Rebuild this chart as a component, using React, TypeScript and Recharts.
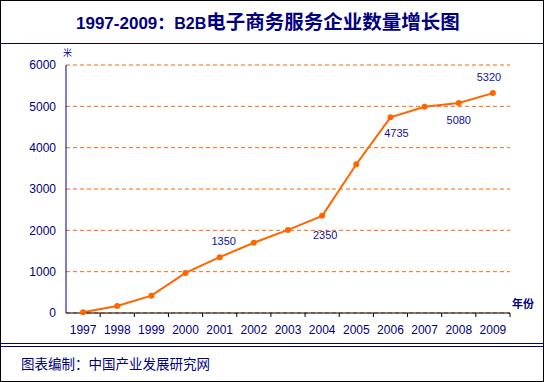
import React from 'react';
import { LineChart, Line, XAxis, YAxis, CartesianGrid, LabelList } from 'recharts';

const years = ['1997', '1998', '1999', '2000', '2001', '2002', '2003', '2004', '2005', '2006', '2007', '2008', '2009'];
const counts = [20, 170, 420, 970, 1350, 1700, 2010, 2350, 3600, 4735, 4990, 5080, 5320];
const yTicks = [0, 1000, 2000, 3000, 4000, 5000, 6000];
const labeledYears = ['2001', '2004', '2006', '2008', '2009'];

const data = years.map((y, i) => ({ year: y, value: counts[i] }));

const NAVY = '#000080';
const ORANGE = '#FF6600';
const FONT = '"Liberation Sans", Arial, sans-serif';
const CJK = '"Noto Sans CJK SC", sans-serif';

const labelOffsets: Record<string, { dx: number; dy: number }> = {
  '2001': { dx: 4, dy: -16 },
  '2004': { dx: 3, dy: 19 },
  '2006': { dx: 6, dy: 16 },
  '2008': { dx: 0, dy: 17 },
  '2009': { dx: -4, dy: -16 },
};

const BAND = 444 / 13;

const XTick = (props: any) => {
  const { x, y, payload } = props;
  const axisY = 313;
  return (
    <g>
      <line x1={x + BAND / 2} x2={x + BAND / 2} y1={axisY} y2={axisY + 4} stroke="#000" />
      <text x={x} y={y} dy="0.71em" textAnchor="middle" fill={NAVY} fontSize={12} fontFamily={FONT}>
        {payload.value}
      </text>
    </g>
  );
};

const DataLabel = (props: any) => {
  const { x, y, index } = props;
  const yr = years[index];
  if (!labeledYears.includes(yr)) return null;
  const o = labelOffsets[yr];
  return (
    <text x={x + o.dx} y={y + o.dy} dy="0.35em" textAnchor="middle" fill="#1010A0" fontSize={11} fontFamily={FONT}>
      {counts[index]}
    </text>
  );
};

export default function App() {
  return (
    <div style={{ position: 'absolute', left: 0, top: 0, width: 544, height: 382, background: '#fff' }}>
      <LineChart
        width={544}
        height={382}
        data={data}
        margin={{ top: 65, right: 34, bottom: 39, left: 6 }}
      >
        <CartesianGrid horizontal vertical={false} stroke={ORANGE} strokeDasharray="4 3" />
        <XAxis
          dataKey="year"
          height={30}
          padding={{ left: BAND / 2, right: BAND / 2 }}
          axisLine={{ stroke: '#000' }}
          tickLine={false}
          tickSize={4}
          tickMargin={8}
          interval={0}
          tick={<XTick />}
        />
        <YAxis
          width={60}
          domain={[0, 6000]}
          ticks={yTicks}
          axisLine={{ stroke: NAVY }}
          tickLine={false}
          tickMargin={4}
          tick={{ fill: NAVY, fontSize: 12, fontFamily: FONT }}
        />
        <Line
          type="linear"
          dataKey="value"
          stroke={ORANGE}
          strokeWidth={2}
          dot={{ r: 3, fill: ORANGE, stroke: ORANGE, strokeWidth: 0 }}
          isAnimationActive={false}
        >
          <LabelList dataKey="value" content={<DataLabel />} />
        </Line>
      </LineChart>
      <svg
        width={544}
        height={382}
        style={{ position: 'absolute', left: 0, top: 0, pointerEvents: 'none' }}
      >
        <rect x={0.5} y={0.5} width={543} height={381} fill="none" stroke="#000" />
        <line x1={0} x2={544} y1={43.5} y2={43.5} stroke={NAVY} />
        <text x={76} y={28.5} textAnchor="start" fill={NAVY} fontWeight="bold">
          <tspan fontFamily={FONT} fontSize={17}>1997-2009</tspan>
          <tspan fontFamily={CJK} fontSize={17}>：</tspan>
          <tspan fontFamily={FONT} fontSize={16}>B2B</tspan>
          <tspan fontFamily={CJK} fontSize={19.5}>电子商务服务企业数量增长图</tspan>
        </text>
        <text x={63} y={56} fill={NAVY} fontSize={9} fontFamily={CJK}>米</text>
        <text x={512} y={308} fill={NAVY} fontSize={11} fontWeight="bold" fontFamily={CJK}>年份</text>
        <line x1={0} x2={544} y1={343.5} y2={343.5} stroke={NAVY} />
        <line x1={0} x2={544} y1={346.5} y2={346.5} stroke={NAVY} />
        <text x={21} y={369} fill={NAVY} fontSize={13.5} fontFamily={CJK}>图表编制：中国产业发展研究网</text>
      </svg>
    </div>
  );
}
